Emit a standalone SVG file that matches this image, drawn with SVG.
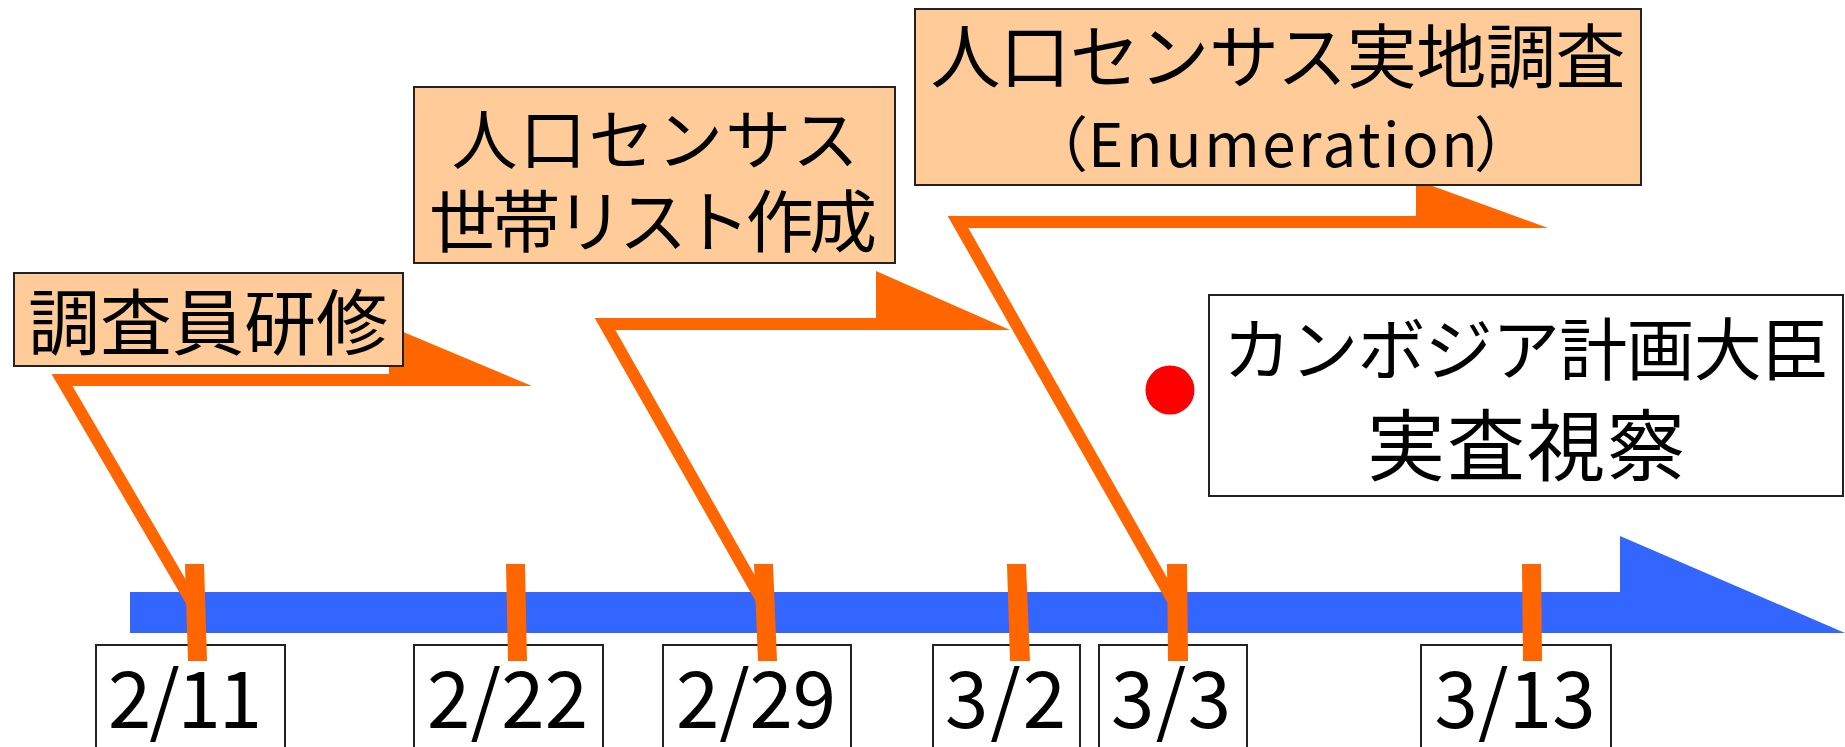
<svg xmlns="http://www.w3.org/2000/svg" width="1845" height="747" viewBox="0 0 1845 747">
<style>
.lbl{fill:#FFCC99;stroke:#222;stroke-width:2}
.box{fill:#FFFFFF;stroke:#222;stroke-width:2}
.t{font-family:"Noto Sans CJK JP","Noto Sans CJK SC",sans-serif;fill:#000;text-anchor:middle}
.arm{fill:none;stroke:#FF6600;stroke-width:12;stroke-linejoin:miter;stroke-miterlimit:10}
.or{fill:#FF6600}
</style>
<rect width="1845" height="747" fill="#FFFFFF"/>
<g id="axis">
<polygon points="130,592 1620,592 1620,536 1845,633 130,633" fill="#3366FF"/>
</g>
<g id="date-2-11"><rect class="box" x="96" y="645" width="189" height="120"/><text class="t" x="185" y="728" font-size="78" textLength="154" lengthAdjust="spacing">2/11</text></g>
<g id="date-2-22"><rect class="box" x="414" y="645" width="189" height="120"/><text class="t" x="507.5" y="728" font-size="78" textLength="161" lengthAdjust="spacing">2/22</text></g>
<g id="date-2-29"><rect class="box" x="663" y="645" width="188" height="120"/><text class="t" x="756" y="728" font-size="78" textLength="160" lengthAdjust="spacing">2/29</text></g>
<g id="date-3-2"><rect class="box" x="933" y="645" width="147" height="120"/><text class="t" x="1005.5" y="728" font-size="78" textLength="121" lengthAdjust="spacing">3/2</text></g>
<g id="date-3-3"><rect class="box" x="1099" y="645" width="148" height="120"/><text class="t" x="1171" y="728" font-size="78" textLength="120" lengthAdjust="spacing">3/3</text></g>
<g id="date-3-13"><rect class="box" x="1421" y="645" width="190" height="120"/><text class="t" x="1515" y="728" font-size="78" textLength="161" lengthAdjust="spacing">3/13</text></g>
<g id="ticks" class="or">
<polygon points="185,564 204,564 207,661 188,661"/>
<polygon points="506,564 525,564 527,661 508,661"/>
<polygon points="754,564 773,564 777,661 758,661"/>
<polygon points="1007,564 1026,564 1030,661 1010,661"/>
<polygon points="1167,564 1187,564 1188,661 1168,661"/>
<polygon points="1522,564 1541,564 1542,661 1523,661"/>
</g>
<g id="connectors">
<polyline class="arm" points="192,602 62,380 392,380"/>
<polygon class="or" points="389,326 532,386 389,386"/>
<polyline class="arm" points="763,602 605,324 879,324"/>
<polygon class="or" points="876,271 1010,330 876,330"/>
<polyline class="arm" points="1174,602 958,222 1419,222"/>
<polygon class="or" points="1416,180 1548,228 1416,228"/>
</g>
<g id="training">
<rect class="lbl" x="14" y="273" width="389" height="93"/>
<text class="t" x="208" y="349" font-size="72" textLength="360" lengthAdjust="spacing">調査員研修</text>
</g>
<g id="household-list">
<rect class="lbl" x="414" y="87" width="481" height="176"/>
<text class="t" x="655" y="164" font-size="66" textLength="407" lengthAdjust="spacing">人口センサス</text>
<text class="t" x="653" y="247" font-size="68" textLength="448" lengthAdjust="spacing">世帯リスト作成</text>
</g>
<g id="enumeration">
<rect class="lbl" x="915" y="9" width="726" height="176"/>
<text class="t" x="1278" y="83" font-size="70" textLength="695" lengthAdjust="spacing">人口センサス実地調査</text>
<text class="t" y="167" font-size="60" style="text-anchor:start"><tspan x="1028">（</tspan><tspan x="1088" letter-spacing="2.6">Enumeration</tspan><tspan x="1474">）</tspan></text>
</g>
<g id="minister-visit">
<circle cx="1170" cy="390" r="24.5" fill="#FF0000"/>
<rect class="box" x="1209" y="295" width="634" height="201"/>
<text class="t" x="1526" y="375" font-size="68" textLength="606" lengthAdjust="spacing">カンボジア計画大臣</text>
<text class="t" x="1526" y="475" font-size="78" textLength="318" lengthAdjust="spacing">実査視察</text>
</g>
</svg>
